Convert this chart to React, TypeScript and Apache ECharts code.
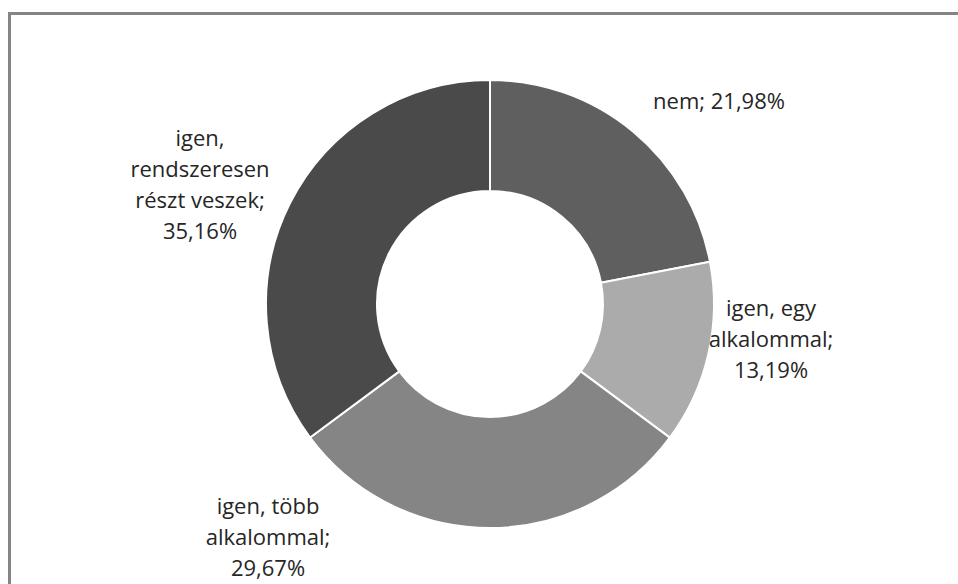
import React, { useEffect, useRef } from "react";
import * as echarts from "echarts";

const categories = [
  "nem",
  "igen, egy alkalommal",
  "igen, több alkalommal",
  "igen, rendszeresen részt veszek",
];
const values = [21.98, 13.19, 29.67, 35.16];
const labelTexts = [
  "nem; 21,98%",
  "igen, egy\nalkalommal;\n13,19%",
  "igen, több\nalkalommal;\n29,67%",
  "igen,\nrendszeresen\nrészt veszek;\n35,16%",
];
const colors = ["#5f5f5f", "#ababab", "#858585", "#4a4a4a"];
const labelPos = [
  [719, 100],
  [771, 338],
  [268, 536],
  [200, 183],
];

export default function App() {
  const ref = useRef<HTMLDivElement>(null);
  useEffect(() => {
    if (!ref.current) return;
    const chart = echarts.init(ref.current, undefined, { renderer: "svg" });
    chart.setOption({
      animation: false,
      backgroundColor: "#ffffff",
      graphic: [
        {
          type: "polyline",
          shape: {
            points: [
              [9.5, 700],
              [9.5, 13.5],
              [1200, 13.5],
            ],
          },
          style: { fill: "none", stroke: "#858585", lineWidth: 3 },
          z: 10,
        },
      ],
      series: [
        {
          type: "pie",
          center: [490, 304],
          radius: [113, 224],
          startAngle: 90,
          clockwise: true,
          avoidLabelOverlap: false,
          itemStyle: { borderColor: "#ffffff", borderWidth: 2 },
          labelLine: { show: false },
          label: {
            show: true,
            position: "outside",
            formatter: (p: any) => labelTexts[p.dataIndex],
            fontFamily: "Open Sans",
            fontSize: 22,
            lineHeight: 31,
            color: "#262626",
            align: "center",
          },
          labelLayout: (p: any) => ({
            x: labelPos[p.dataIndex][0],
            y: labelPos[p.dataIndex][1],
            align: "center",
            verticalAlign: "middle",
          }),
          data: categories.map((c, i) => ({
            name: c,
            value: values[i],
            itemStyle: { color: colors[i] },
          })),
        },
      ],
    });
    return () => chart.dispose();
  }, []);
  return (
    <div
      ref={ref}
      style={{ position: "fixed", left: 0, top: 0, width: 958, height: 584 }}
    />
  );
}
